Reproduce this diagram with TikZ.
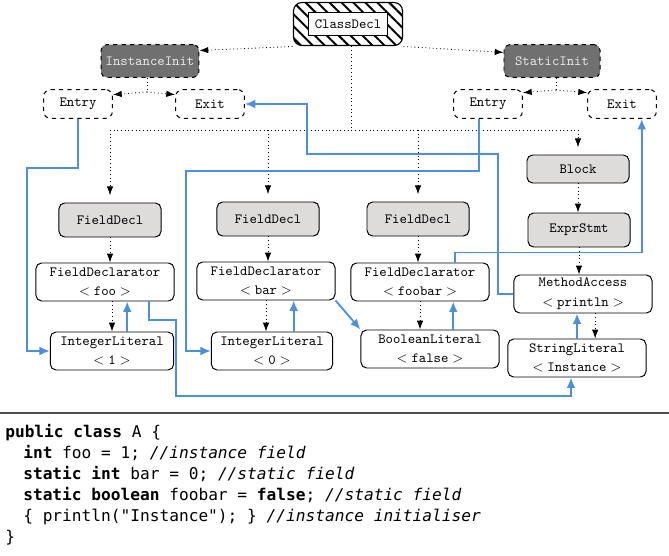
\documentclass[tikz,border=0pt]{standalone}
\usepackage{fontspec}
\newfontfamily\codefont{DejaVu Sans Mono}
\usetikzlibrary{arrows.meta,patterns.meta}

\definecolor{astgray}{RGB}{222,219,219}
\definecolor{initgray}{RGB}{112,112,112}
\definecolor{inittext}{RGB}{232,232,232}
\definecolor{flowblue}{RGB}{74,144,226}

\tikzset{
  ast/.style={draw, line width=0.7pt, rounded corners=4pt, fill=astgray, font=\ttfamily,
    minimum width=2.55cm, minimum height=0.85cm},
  leaf/.style={draw, line width=0.7pt, rounded corners=4pt, fill=white, font=\ttfamily,
    align=center, minimum width=3.45cm, minimum height=0.95cm, inner sep=1pt},
  init/.style={draw, dashed, line width=0.7pt, rounded corners=4pt, fill=initgray,
    text=inittext, font=\ttfamily, minimum width=2.4cm, minimum height=0.82cm},
  cfg/.style={draw, dashed, line width=0.7pt, rounded corners=5pt, font=\ttfamily,
    minimum width=1.72cm, minimum height=0.72cm},
  classbox/.style={draw, line width=0.8pt, rounded corners=6pt,
    pattern={Lines[angle=-45,distance=6pt,line width=1.4pt]},
    minimum width=2.725cm, minimum height=1.075cm},
  classlabel/.style={draw, line width=0.7pt, fill=white, font=\ttfamily,
    minimum width=1.975cm, minimum height=0.575cm, inner sep=2pt},
  flow/.style={dotted, line width=0.6pt},
  tree/.style={flow, -{Latex[length=2.2mm,width=1.6mm]}},
  dep/.style={flowblue, line width=1.3pt, -{Latex[length=2.6mm,width=2.2mm]}},
  code/.style={anchor=base west, inner sep=0pt, font=\codefont\fontsize{11.5}{15}\selectfont},
}

\begin{document}
\begin{tikzpicture}[x=0.025cm,y=-0.025cm]
\useasboundingbox (0,0) rectangle (669,556);

% class and initialisers
\node[classbox] (ClassDecl) at (348,24) {};
\node[classlabel] (ClassLabel) at (ClassDecl) {ClassDecl};
\node[init] (InstanceInit) at (150,61) {InstanceInit};
\node[init] (StaticInit) at (552,61) {StaticInit};
\node[cfg] (EntryI) at (78,104) {Entry};
\node[cfg] (ExitI) at (210,104) {Exit};
\node[cfg] (EntryS) at (488,104) {Entry};
\node[cfg] (ExitS) at (622,104) {Exit};

% members
\node[ast] (FieldDeclA) at (110,220) {FieldDecl};
\node[ast] (FieldDeclB) at (268,219) {FieldDecl};
\node[ast] (FieldDeclC) at (418,219) {FieldDecl};
\node[ast, minimum height=0.7cm] (Block) at (578,169) {Block};
\node[ast] (ExprStmt) at (579,230) {ExprStmt};

\node[leaf] (FDeclA) at (105,282) {FieldDeclarator\\[2pt]$<\texttt{foo}>$};
\node[leaf] (FDeclB) at (266,281) {FieldDeclarator\\[2pt]$<\texttt{bar}>$};
\node[leaf] (FDeclC) at (420,282) {FieldDeclarator\\[2pt]$<\texttt{foobar}>$};
\node[leaf] (MethAcc) at (583,294) {MethodAccess\\[2pt]$<\texttt{println}>$};
\node[leaf, minimum width=3.08cm] (IntLitA) at (112,351) {IntegerLiteral\\[2pt]$<\texttt{1}>$};
\node[leaf, minimum width=3.03cm] (IntLitB) at (272,351) {IntegerLiteral\\[2pt]$<\texttt{0}>$};
\node[leaf] (BoolLit) at (430,349) {BooleanLiteral\\[2pt]$<\texttt{false}>$};
\node[leaf] (StrLit) at (577,358) {StringLiteral\\[2pt]$<\texttt{Instance}>$};

% tree edges
\draw[tree] (ClassDecl.south west) -- (InstanceInit.12);
\draw[tree] (ClassDecl.south east) -- (StaticInit.170);
\coordinate (iiSplit) at (147,92);
\coordinate (siSplit) at (556,90);
\draw[flow] (InstanceInit.south -| iiSplit) -- (iiSplit);
\draw[tree] (iiSplit) -- (EntryI.15);
\draw[tree] (iiSplit) -- (ExitI.165);
\draw[flow] (StaticInit.south -| siSplit) -- (siSplit);
\draw[tree] (siSplit) -- (EntryS.18);
\draw[tree] (siSplit) -- (ExitS.162);

\coordinate (bus) at (351,130);
\draw[flow] (ClassDecl.south -| bus) -- (bus);
\draw[flow] (bus -| FieldDeclA) -- (bus -| Block);
\draw[tree, shorten >=1.8mm] (bus -| FieldDeclA) -- (FieldDeclA.north);
\draw[tree, shorten >=1.8mm] (bus -| FieldDeclB) -- (FieldDeclB.north);
\draw[tree, shorten >=1.8mm] (bus -| FieldDeclC) -- (FieldDeclC.north);
\draw[tree, shorten >=1.8mm] (bus -| Block) -- (Block.north);

\draw[tree] (FieldDeclA.south) -- (FieldDeclA.south |- FDeclA.north);
\draw[tree] (FieldDeclB.south) -- (FieldDeclB.south |- FDeclB.north);
\draw[tree] (FieldDeclC.south) -- (FieldDeclC.south |- FDeclC.north);
\draw[tree] (Block.south) -- (Block.south |- ExprStmt.north);
\draw[tree] (ExprStmt.south) -- (ExprStmt.south |- MethAcc.north);
\draw[tree] (FDeclA.south -| IntLitA) -- (IntLitA.north);
\draw[tree] (FDeclB.south) -- (FDeclB.south |- IntLitB.north);
\draw[tree] (FDeclC.south) -- (FDeclC.south |- BoolLit.north);
\draw[tree] (MethAcc.-58) -- (MethAcc.-58 |- StrLit.north);

% control flow
\draw[dep] (EntryI.south) |- (27,168) |- (IntLitA.west);
\draw[dep] (IntLitA.52) -- (IntLitA.52 |- FDeclA.south);
\draw[dep] (FDeclA.-24) |- (176,320) |- (571,396) -- (StrLit.south -| 571,0);
\draw[dep] (StrLit.north) -- (StrLit.north |- MethAcc.south);
\draw[dep] (MethAcc.west) -| (498,154) -- (307,154) |- (ExitI.east);
\draw[dep] (EntryS.-122) |- (186,171) |- (IntLitB.west);
\draw[dep] (IntLitB.42) -- (IntLitB.42 |- FDeclB.south);
\draw[dep] (FDeclB.south east) -- (BoolLit.north west);
\draw[dep] (BoolLit.40) -- (BoolLit.40 |- FDeclC.south);
\draw[dep] (FDeclC.29) -- ++(0,-10) -| (ExitS.-37);

% source
\draw[black!70, line width=0.8pt] (0,413) -- (669,413);
\node[code] (lineA) at (5,437) {\textbf{public class} A \{};
\node[code] (lineB) at (23,458) {\textbf{int} foo = 1; \textit{//instance field}};
\node[code] (lineC) at (23,479) {\textbf{static int} bar = 0; \textit{//static field}};
\node[code] (lineD) at (23,500) {\textbf{static boolean} foobar = \textbf{false}; \textit{//static field}};
\node[code] (lineE) at (23,521) {\{ println("Instance"); \} \textit{//instance initialiser}};
\node[code] (lineF) at (5,542) {\}};
\end{tikzpicture}
\end{document}
